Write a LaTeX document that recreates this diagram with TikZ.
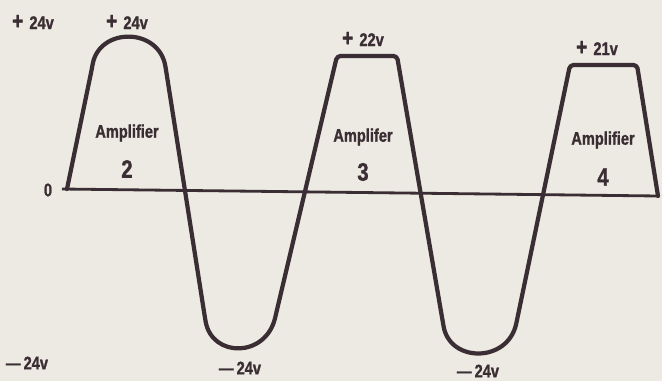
\documentclass[tikz,border=0pt]{standalone}
\usepackage{fontspec}
\setmainfont{Liberation Sans}[Ligatures=TeX]
\newfontfamily\condfont{Liberation Sans}[FakeStretch=0.8,Ligatures=TeX,BoldFont={Liberation Sans Bold},BoldFeatures={FakeBold=1.2}]
\usetikzlibrary{positioning}
\definecolor{paper}{HTML}{ECEAE2}
\definecolor{ink}{HTML}{3A2E34}
\newcommand{\plus}{{\fontsize{17}{17}\selectfont+}\,\,}
\tikzset{
  wave/.style={draw=ink, line width=3pt, line join=round, line cap=round, rounded corners=2.5pt},
  axis/.style={draw=ink, line width=2pt},
  volt/.style={font=\condfont\bfseries\fontsize{13}{15}\selectfont, text=ink, inner sep=1pt},
  amp/.style={font=\condfont\bfseries\fontsize{13}{15}\selectfont, text=ink, inner sep=1pt},
  num/.style={font=\condfont\bfseries\fontsize{18}{20}\selectfont, text=ink, inner sep=1pt},
}
\begin{document}
\begin{tikzpicture}[x=0.025cm, y=-0.025cm]
        \fill[paper] (0,0) rectangle (662,381);
        \useasboundingbox (0,0) rectangle (662,381);
        \draw[axis] (62,189) -- (658,196);
        \draw[wave] (67,189) -- (92,68) .. controls (99,27) and (159,27) .. (166,70) -- (205,318)
          .. controls (212,358) and (266,358) .. (276,314) -- (337,56) -- (397,56) -- (443,323)
          .. controls (450,363) and (508,363) .. (517,320) -- (570,65) -- (637,65) -- (658,196);
        \node[volt] (v0) at (33,22) {\plus 24v};
        \node[volt] (v2) at (127,22) {\plus 24v};
        \node[volt] (z) at (48,190) {0};
        \node[amp] (a2) at (127,133) {Amplifier};
        \node[num] (n2) at (127,169) {2};
        \node[volt] (v3) at (363,39) {\plus 22v};
        \node[amp] (a3) at (363,137) {Amplifer};
        \node[num] (n3) at (363,172) {3};
        \node[volt] (v4) at (597,48) {\plus 21v};
        \node[amp] (a4) at (603,140) {Amplifier};
        \node[num] (n4) at (603,177) {4};
        \node[volt] (m0) at (27,363) {---\,24v};
        \node[volt] (m1) at (240,368) {---\,24v};
        \node[volt] (m2) at (478,371) {---\,24v};
      \end{tikzpicture}
\end{document}
